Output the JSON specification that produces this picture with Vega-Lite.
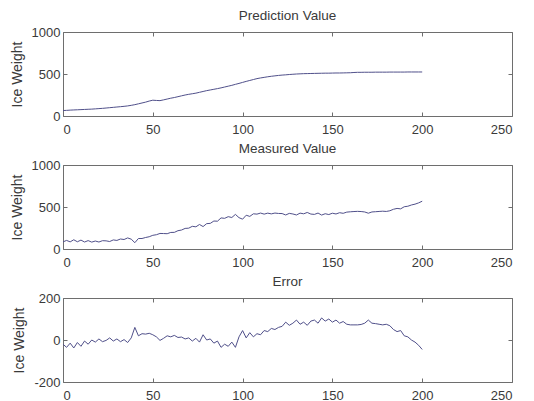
{
  "$schema": "https://vega.github.io/schema/vega-lite/v6.json",
  "padding": {"left": 9, "top": 8, "right": 5, "bottom": 0},
  "background": "white",
  "config": {
    "font": "Liberation Sans",
    "view": {"stroke": "#6e6e6e", "strokeWidth": 1},
    "axis": {
      "grid": false,
      "domain": false,
      "tickColor": "#6e6e6e",
      "tickSize": -4,
      "labelColor": "#3a3a3a",
      "titleColor": "#3a3a3a",
      "labelFont": "Liberation Sans",
      "titleFont": "Liberation Sans",
      "labelFontSize": 13,
      "titleFontSize": 14,
      "titleFontWeight": "normal",
      "labelPadding": 7,
      "titlePadding": 7,
      "labelExpr": "'' + datum.value"
    },
    "axisX": {"labelPadding": 11},
    "title": {"fontSize": 13.5, "fontWeight": "normal", "color": "#3a3a3a", "offset": 0, "font": "Liberation Sans"},
    "line": {"color": "#50508a", "strokeWidth": 1}
  },
  "data": {
    "values": [
      {"x":0,"pred":65,"meas":85,"err":-20},
      {"x":2,"pred":67,"meas":102,"err":-35},
      {"x":4,"pred":70,"meas":85,"err":-15},
      {"x":6,"pred":72,"meas":110,"err":-38},
      {"x":8,"pred":74,"meas":86,"err":-12},
      {"x":10,"pred":76,"meas":106,"err":-30},
      {"x":12,"pred":78,"meas":83,"err":-5},
      {"x":14,"pred":80,"meas":100,"err":-20},
      {"x":16,"pred":82,"meas":82,"err":0},
      {"x":18,"pred":85,"meas":95,"err":-10},
      {"x":20,"pred":88,"meas":83,"err":5},
      {"x":22,"pred":91,"meas":99,"err":-8},
      {"x":24,"pred":95,"meas":97,"err":-2},
      {"x":26,"pred":99,"meas":89,"err":10},
      {"x":28,"pred":103,"meas":108,"err":-5},
      {"x":30,"pred":107,"meas":102,"err":5},
      {"x":32,"pred":111,"meas":119,"err":-8},
      {"x":34,"pred":115,"meas":113,"err":2},
      {"x":36,"pred":120,"meas":132,"err":-12},
      {"x":38,"pred":127,"meas":117,"err":10},
      {"x":40,"pred":135,"meas":75,"err":60},
      {"x":42,"pred":145,"meas":125,"err":20},
      {"x":44,"pred":155,"meas":125,"err":30},
      {"x":46,"pred":165,"meas":137,"err":28},
      {"x":48,"pred":178,"meas":146,"err":32},
      {"x":50,"pred":188,"meas":163,"err":25},
      {"x":52,"pred":185,"meas":170,"err":15},
      {"x":54,"pred":183,"meas":185,"err":-2},
      {"x":56,"pred":192,"meas":184,"err":8},
      {"x":58,"pred":202,"meas":182,"err":20},
      {"x":60,"pred":212,"meas":197,"err":15},
      {"x":62,"pred":220,"meas":198,"err":22},
      {"x":64,"pred":230,"meas":218,"err":12},
      {"x":66,"pred":240,"meas":226,"err":14},
      {"x":68,"pred":250,"meas":245,"err":5},
      {"x":70,"pred":258,"meas":248,"err":10},
      {"x":72,"pred":265,"meas":270,"err":-5},
      {"x":74,"pred":272,"meas":264,"err":8},
      {"x":76,"pred":282,"meas":292,"err":-10},
      {"x":78,"pred":292,"meas":267,"err":25},
      {"x":80,"pred":302,"meas":302,"err":0},
      {"x":82,"pred":310,"meas":305,"err":5},
      {"x":84,"pred":318,"meas":333,"err":-15},
      {"x":86,"pred":326,"meas":331,"err":-5},
      {"x":88,"pred":335,"meas":370,"err":-35},
      {"x":90,"pred":345,"meas":365,"err":-20},
      {"x":92,"pred":355,"meas":385,"err":-30},
      {"x":94,"pred":365,"meas":375,"err":-10},
      {"x":96,"pred":377,"meas":412,"err":-35},
      {"x":98,"pred":388,"meas":373,"err":15},
      {"x":100,"pred":400,"meas":355,"err":45},
      {"x":102,"pred":412,"meas":402,"err":10},
      {"x":104,"pred":423,"meas":388,"err":35},
      {"x":106,"pred":434,"meas":419,"err":15},
      {"x":108,"pred":445,"meas":415,"err":30},
      {"x":110,"pred":453,"meas":428,"err":25},
      {"x":112,"pred":460,"meas":415,"err":45},
      {"x":114,"pred":467,"meas":427,"err":40},
      {"x":116,"pred":473,"meas":418,"err":55},
      {"x":118,"pred":478,"meas":428,"err":50},
      {"x":120,"pred":483,"meas":423,"err":60},
      {"x":122,"pred":487,"meas":422,"err":65},
      {"x":124,"pred":490,"meas":405,"err":85},
      {"x":126,"pred":494,"meas":424,"err":70},
      {"x":128,"pred":497,"meas":417,"err":80},
      {"x":130,"pred":500,"meas":405,"err":95},
      {"x":132,"pred":502,"meas":427,"err":75},
      {"x":134,"pred":504,"meas":419,"err":85},
      {"x":136,"pred":505,"meas":435,"err":70},
      {"x":138,"pred":506,"meas":416,"err":90},
      {"x":140,"pred":507,"meas":412,"err":95},
      {"x":142,"pred":508,"meas":428,"err":80},
      {"x":144,"pred":509,"meas":404,"err":105},
      {"x":146,"pred":510,"meas":420,"err":90},
      {"x":148,"pred":510,"meas":410,"err":100},
      {"x":150,"pred":511,"meas":426,"err":85},
      {"x":152,"pred":512,"meas":417,"err":95},
      {"x":154,"pred":512,"meas":432,"err":80},
      {"x":156,"pred":513,"meas":425,"err":88},
      {"x":158,"pred":514,"meas":439,"err":75},
      {"x":160,"pred":515,"meas":443,"err":72},
      {"x":162,"pred":518,"meas":446,"err":72},
      {"x":164,"pred":520,"meas":448,"err":72},
      {"x":166,"pred":520,"meas":446,"err":74},
      {"x":168,"pred":521,"meas":441,"err":80},
      {"x":170,"pred":521,"meas":426,"err":95},
      {"x":172,"pred":521,"meas":441,"err":80},
      {"x":174,"pred":522,"meas":444,"err":78},
      {"x":176,"pred":522,"meas":447,"err":75},
      {"x":178,"pred":522,"meas":450,"err":72},
      {"x":180,"pred":522,"meas":447,"err":75},
      {"x":182,"pred":523,"meas":455,"err":68},
      {"x":184,"pred":523,"meas":473,"err":50},
      {"x":186,"pred":523,"meas":483,"err":40},
      {"x":188,"pred":523,"meas":478,"err":45},
      {"x":190,"pred":523,"meas":503,"err":20},
      {"x":192,"pred":524,"meas":509,"err":15},
      {"x":194,"pred":524,"meas":524,"err":0},
      {"x":196,"pred":524,"meas":534,"err":-10},
      {"x":198,"pred":524,"meas":549,"err":-25},
      {"x":200,"pred":524,"meas":569,"err":-45}
    ]
  },
  "spacing": 49,
  "bounds": "flush",
  "vconcat": [
    {
      "width": 449, "height": 84,
      "title": "Prediction Value",
      "layer": [
        {
          "mark": "line",
          "encoding": {
            "x": {"field": "x", "type": "quantitative", "scale": {"domain": [0, 250], "nice": false}, "axis": {"values": [0,50,100,150,200,250], "title": null}},
            "y": {"field": "pred", "type": "quantitative", "scale": {"domain": [0, 1000], "nice": false}, "axis": {"values": [0,500,1000], "title": "Ice Weight"}}
          }
        },
        {
          "mark": {"type": "line", "opacity": 0},
          "encoding": {
            "x": {"field": "x", "type": "quantitative", "axis": {"orient": "top", "values": [0,50,100,150,200,250], "labels": false, "title": null}},
            "y": {"field": "pred", "type": "quantitative", "axis": {"orient": "right", "values": [0,500,1000], "labels": false, "title": null}}
          }
        }
      ],
      "resolve": {"axis": {"x": "independent", "y": "independent"}}
    },
    {
      "width": 449, "height": 84,
      "title": "Measured Value",
      "layer": [
        {
          "mark": "line",
          "encoding": {
            "x": {"field": "x", "type": "quantitative", "scale": {"domain": [0, 250], "nice": false}, "axis": {"values": [0,50,100,150,200,250], "title": null}},
            "y": {"field": "meas", "type": "quantitative", "scale": {"domain": [0, 1000], "nice": false}, "axis": {"values": [0,500,1000], "title": "Ice Weight"}}
          }
        },
        {
          "mark": {"type": "line", "opacity": 0},
          "encoding": {
            "x": {"field": "x", "type": "quantitative", "axis": {"orient": "top", "values": [0,50,100,150,200,250], "labels": false, "title": null}},
            "y": {"field": "meas", "type": "quantitative", "axis": {"orient": "right", "values": [0,500,1000], "labels": false, "title": null}}
          }
        }
      ],
      "resolve": {"axis": {"x": "independent", "y": "independent"}}
    },
    {
      "width": 449, "height": 84,
      "title": "Error",
      "layer": [
        {
          "mark": "line",
          "encoding": {
            "x": {"field": "x", "type": "quantitative", "scale": {"domain": [0, 250], "nice": false}, "axis": {"values": [0,50,100,150,200,250], "title": null}},
            "y": {"field": "err", "type": "quantitative", "scale": {"domain": [-200, 200], "nice": false}, "axis": {"values": [-200,0,200], "title": "Ice Weight"}}
          }
        },
        {
          "mark": {"type": "line", "opacity": 0},
          "encoding": {
            "x": {"field": "x", "type": "quantitative", "axis": {"orient": "top", "values": [0,50,100,150,200,250], "labels": false, "title": null}},
            "y": {"field": "err", "type": "quantitative", "axis": {"orient": "right", "values": [-200,0,200], "labels": false, "title": null}}
          }
        }
      ],
      "resolve": {"axis": {"x": "independent", "y": "independent"}}
    }
  ]
}
